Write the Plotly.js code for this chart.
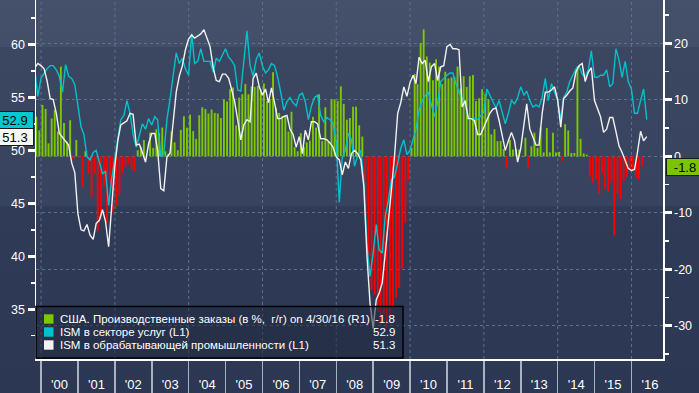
<!DOCTYPE html>
<html>
<head>
<meta charset="utf-8">
<script src="https://cdn.plot.ly/plotly-3.0.1.min.js"></script>
<style>
  html, body { margin: 0; padding: 0; background: #2e3956; }
  #chart {
    width: 699px; height: 393px;
    background: linear-gradient(to bottom,
      #45506b 0px, #434e69 47px,
      #3b4661 47px, #38435f 206px,
      #303b58 206px, #2c3753 393px);
  }
</style>
</head>
<body>
<div id="chart"></div>
<script>
// ---- DATA ----
// US factory orders, % y/y, monthly Nov 1999 .. Apr 2016 (right axis, R1)
const factoryOrdersStart = [1999, 11];
const factoryOrders = [
  7.0, 4.6,
  9.1, 8.4, 2.3, 6.7, 8.2, 4.4, 15.9, 5.9, 2.6, 6.4, -0.5, 2.9,
  -0.3, -5.4, 0.9, -3.0, -7.2, -3.0, -13.3, -11.2, -5.4, -11.8, -6.5, -10.0,
  -8.8, -6.8, -3.0, -1.8, -1.3, -2.3, -2.6, 1.1, 1.7, 2.9, -0.3, 4.2,
  1.5, 4.8, 4.1, 5.1, 0.9, 0.5, 4.4, 2.5, 1.1, 4.7, 7.1, 5.1,
  7.4, 4.5, 3.1, 7.3, 8.7, 8.4, 7.6, 8.3, 7.7, 7.6, 6.8, 10.1,
  9.7, 11.9, 12.2, 5.5, 10.4, 11.0, 12.8, 11.0, 12.4, 12.3, 12.5, 11.9,
  12.9, 9.8, 10.1, 14.9, 8.6, 7.7, 7.1, 7.1, 4.4, 7.9, 1.6, 0.9,
  4.1, 1.7, 2.5, 2.8, 7.0, 5.1, 11.0, 2.7, 8.7, 2.6, 10.1, 10.1,
  9.8, 12.4, 9.3, 6.5, 6.8, 8.8, 8.8, 5.5, 3.5, -10.5, -17.5, -23.7,
  -24.5, -27.5, -29.5, -28.0, -30.4, -29.0, -26.6, -25.0, -23.3, -19.8, -11.8, -4.2,
  1.5, 14.6, 12.8, 20.1, 22.5, 17.7, 16.6, 13.5, 17.2, 15.9, 12.8, 15.0,
  13.8, 14.0, 14.1, 15.9, 12.0, 14.2, 12.3, 14.2, 14.4, 9.8, 10.3, 11.9,
  11.0, 10.1, 3.9, 4.8, 2.7, 2.7, 1.3, -2.1, 2.9, 1.2, 1.3, 1.2,
  0.1, 3.3, -2.1, 1.8, 4.2, 1.5, 5.1, 0.7, 5.0, 0.7, 4.2, 0.7,
  0.8, -0.8, 5.7, 4.6, 0.6, 0.6, 15.9, 3.1, 0.5, 0.3, -3.6, -4.7,
  -4.1, -6.7, -3.0, -5.8, -6.3, -4.6, -14.0, -6.7, -7.6, -4.4, -3.6, -2.5,
  -2.3, -3.9, -4.0, -1.8
];

// ISM indices, monthly Oct 1999 .. May 2016 (left axis, L1)
const ismStart = [1999, 10];
const ismServices = [
  57.6, 55.1, 56.8,
  57.3, 57.7, 58.0, 58.0, 57.6, 57.0, 55.5, 58.1, 57.0, 56.8, 56.2, 54.1,
  52.2, 51.5, 49.4, 49.1, 49.8, 50.0, 48.9, 47.8, 48.0, 44.8, 47.3, 49.4,
  51.3, 52.9, 53.3, 54.7, 53.5, 51.5, 50.3, 51.5, 52.5, 52.0, 53.0, 52.4,
  53.2, 52.9, 49.4, 49.7, 52.9, 54.8, 57.0, 59.2, 58.2, 58.7, 57.7, 57.1,
  61.0, 58.2, 58.4, 59.6, 58.4, 58.4, 58.4, 57.4, 58.7, 58.4, 59.0, 59.6,
  58.8, 58.5, 58.0, 55.7, 55.6, 58.6, 61.3, 58.0, 57.0, 58.6, 59.2, 58.0,
  57.3, 57.6, 58.2, 58.0, 56.9, 55.5, 53.8, 54.6, 55.0, 54.5, 54.2, 55.2,
  55.4, 54.6, 52.9, 54.2, 55.0, 55.2, 53.3, 52.7, 53.1, 52.9, 52.6, 50.8,
  45.1, 49.3, 50.0, 51.6, 51.0, 48.5, 49.5, 50.0, 47.0, 41.0, 38.1, 40.3,
  43.0, 40.6, 40.3, 43.8, 45.3, 47.2, 47.5, 48.8, 50.2, 51.0, 49.6, 50.0,
  51.0, 52.0, 53.8, 54.7, 55.2, 55.5, 54.3, 53.2, 54.5, 56.5, 56.8, 57.1,
  57.3, 57.3, 56.3, 55.5, 54.9, 54.3, 53.0, 53.0, 53.0, 52.9, 53.2, 53.6,
  55.8, 55.2, 54.7, 54.0, 54.7, 53.5, 52.5, 53.5, 54.7, 54.4, 55.0, 56.0,
  55.2, 55.6, 54.7, 54.1, 54.3, 54.1, 55.0, 56.8, 54.7, 56.3, 55.5, 54.7,
  52.9, 55.0, 55.5, 56.5, 57.1, 57.7, 58.0, 57.2, 56.9, 57.6, 59.4, 56.9,
  56.9, 57.1, 57.1, 57.6, 56.0, 56.3, 59.6, 58.5, 56.9, 58.4, 56.5, 55.8,
  53.5, 53.5, 54.7, 55.8, 52.9
];
const ismManufacturing = [
  57.8, 58.2, 58.0,
  57.7, 56.6, 54.9, 54.8, 53.5, 51.6, 51.2, 50.8, 50.5, 48.8, 47.9, 44.0,
  42.5, 42.4, 43.0, 42.0, 41.6, 43.1, 43.4, 44.4, 43.3, 40.9, 44.4, 48.5,
  51.0, 52.4, 52.6, 52.8, 53.5, 53.4, 50.5, 50.6, 49.8, 48.9, 50.6, 51.6,
  51.6, 50.0, 46.4, 46.2, 49.4, 49.7, 52.6, 55.5, 57.0, 58.0, 59.5, 60.5,
  60.9, 60.6, 60.8, 61.0, 61.4, 60.7, 59.8, 57.8, 56.6, 56.5, 57.2, 57.2,
  56.8, 55.8, 54.6, 52.9, 51.0, 52.4, 52.9, 52.7, 56.8, 57.3, 56.0, 55.2,
  55.8, 54.5, 55.9, 54.5, 53.0, 53.0, 53.2, 53.3, 52.0, 51.5, 50.3, 51.3,
  49.7, 51.9, 51.0, 52.7, 52.7, 52.5, 51.1, 51.1, 51.0, 50.7, 50.3, 49.4,
  49.1, 47.7, 48.9, 48.3, 49.7, 50.0, 49.7, 49.1, 46.6, 40.0, 35.6, 33.2,
  35.9, 36.5, 37.5, 40.3, 43.1, 46.3, 49.5, 53.5, 54.5, 56.0, 55.1, 56.4,
  57.1, 56.3, 58.8, 58.2, 58.5, 56.5, 57.9, 58.2, 56.6, 57.9, 58.0, 59.8,
  60.0, 59.6, 59.6, 59.5, 54.1, 54.7, 53.0, 53.0, 52.8, 51.5, 51.5, 52.2,
  53.0, 53.5, 53.9, 54.0, 52.8, 51.3, 50.0, 50.9, 51.7, 50.9, 48.9, 50.2,
  52.2, 54.4, 52.0, 51.2, 50.5, 50.5, 53.5, 55.5, 55.5, 55.7, 56.0, 54.8,
  52.2, 54.9, 55.2, 55.6, 55.9, 57.4, 58.0, 58.2, 56.5, 57.4, 57.8, 54.7,
  54.0, 53.2, 51.7, 52.0, 53.1, 53.1, 51.8, 50.4, 49.8, 49.1, 48.3, 48.1,
  48.2, 49.8, 51.8, 50.9, 51.3
];

const seriesNames = [
  "США. Производственные заказы (в %,  г/г) on 4/30/16 (R1)",
  "ISM в секторе услуг (L1)",
  "ISM в обрабатывающей промышленности (L1)"
];
const rightTickVals = [-30, -20, -10, 0, 10, 20];
const rightTickText = ["-30", "-20", "-10", "0", "10", "20"];
const gridYears = [2000, 2002, 2004, 2006, 2008, 2010, 2012, 2014, 2016];

// ---- helpers ----
function pad(n) { return (n < 10 ? "0" : "") + n; }
function monthDates(start, n, endOfMonth) {
  const out = [];
  for (let i = 0; i < n; i++) {
    const k = start[1] - 1 + i;
    const y = start[0] + Math.floor(k / 12);
    const m = k % 12 + 1;
    const d = endOfMonth ? new Date(Date.UTC(y, m, 0)).getUTCDate() : 15;
    out.push(y + "-" + pad(m) + "-" + pad(d));
  }
  return out;
}
const barDates = monthDates(factoryOrdersStart, factoryOrders.length, false);
const lineDates = monthDates(ismStart, ismServices.length, true);

const GREEN = "#7ec800", RED = "#ff0000", CYAN = "#00c3cb", WHITE = "#f2f2f2";
const FONT = "Liberation Sans, Arial, sans-serif";

const traces = [
  {
    type: "bar", x: barDates, y: factoryOrders, xaxis: "x", yaxis: "y",
    marker: { color: factoryOrders.map(v => v >= 0 ? GREEN : RED), line: { width: 0 } },
    hoverinfo: "skip"
  },
  {
    type: "scatter", mode: "lines", x: lineDates, y: ismServices, xaxis: "x", yaxis: "y2",
    line: { color: CYAN, width: 1.4 }, hoverinfo: "skip"
  },
  {
    type: "scatter", mode: "lines", x: lineDates, y: ismManufacturing, xaxis: "x", yaxis: "y2",
    line: { color: WHITE, width: 1.4 }, hoverinfo: "skip"
  }
];

// pixel -> paper helpers (plot area: x 36..663, y 0..359)
const PL = 36, PW = 627, PH = 359;
const px = v => (v - PL) / PW;
const py = v => (PH - v) / PH;

const shapes = [];
gridYears.forEach(y => shapes.push({
  type: "line", xref: "x", yref: "paper", x0: y + "-01-01", x1: y + "-01-01", y0: 0, y1: 1,
  line: { color: "#5b7290", width: 1, dash: "3px,3px" }, layer: "below"
}));
// legend box
shapes.push({
  type: "rect", xref: "paper", yref: "paper", x0: px(36), x1: px(403), y0: py(358), y1: py(306.5),
  fillcolor: "rgba(34,42,64,0.55)", line: { color: "#000000", width: 1.5 }, layer: "above"
});
const swatchColors = [GREEN, CYAN, WHITE];
const rowY = [319, 332, 345];
swatchColors.forEach((c, i) => shapes.push({
  type: "rect", xref: "paper", yref: "paper",
  x0: px(44), x1: px(53.5), y0: py(rowY[i] + 4.7), y1: py(rowY[i] - 4.7),
  fillcolor: c, line: { width: 0 }, layer: "above"
}));

const lastFO = factoryOrders[factoryOrders.length - 1];
const lastSvc = ismServices[ismServices.length - 1];
const lastMfg = ismManufacturing[ismManufacturing.length - 1];
const fmt = v => v.toFixed(1);
const legendValues = [lastFO, lastSvc, lastMfg];

const annotations = [];
seriesNames.forEach((t, i) => {
  annotations.push({
    xref: "paper", yref: "paper", x: px(57.5), y: py(rowY[i]), xanchor: "left", yanchor: "middle",
    text: t, showarrow: false, font: { family: FONT, size: 11.5, color: "#ffffff" }
  });
  annotations.push({
    xref: "paper", yref: "paper", x: px(397), y: py(rowY[i]), xanchor: "right", yanchor: "middle",
    text: fmt(legendValues[i]), showarrow: false, font: { family: FONT, size: 11.5, color: "#ffffff" }
  });
});
// value tags on the axes
annotations.push({
  xref: "paper", yref: "y2", x: 0, y: lastSvc, xanchor: "right", yanchor: "middle", xshift: -2,
  text: fmt(lastSvc), showarrow: false, width: 34, height: 14, borderpad: 1,
  bgcolor: "#00c8d0", bordercolor: "#1a1a1a", borderwidth: 1,
  font: { family: FONT, size: 13, color: "#000000" }
});
annotations.push({
  xref: "paper", yref: "y2", x: 0, y: lastMfg, xanchor: "right", yanchor: "middle", xshift: -2,
  text: fmt(lastMfg), showarrow: false, width: 34, height: 14, borderpad: 1,
  bgcolor: "#f7f7f7", bordercolor: "#1a1a1a", borderwidth: 1,
  font: { family: FONT, size: 13, color: "#000000" }
});
annotations.push({
  xref: "paper", yref: "y", x: 1, y: lastFO, xanchor: "left", yanchor: "middle", xshift: 3,
  text: fmt(lastFO), showarrow: false, width: 34, height: 14, borderpad: 1,
  bgcolor: "#7cc400", bordercolor: "#1a1a1a", borderwidth: 1,
  font: { family: FONT, size: 13, color: "#000000" }
});

const layout = {
  width: 699, height: 393,
  margin: { l: 36, r: 36, t: 0, b: 34, pad: 0 },
  paper_bgcolor: "rgba(0,0,0,0)", plot_bgcolor: "rgba(0,0,0,0)",
  showlegend: false, bargap: 0.33,
  font: { family: FONT, color: "#ffffff", size: 12 },
  xaxis: {
    type: "date", range: ["1999-11-12", "2016-11-08"],
    showgrid: false, zeroline: false, showline: true, linecolor: "#ffffff", linewidth: 1.5,
    ticks: "outside", ticklen: 34, tickwidth: 1.5, tickcolor: "#a9b0bf",
    dtick: "M12", tick0: "2000-01-01", tickformat: "'%y", ticklabelmode: "period",
    ticklabelstandoff: -21, tickfont: { family: FONT, size: 13, color: "#ffffff" }
  },
  yaxis: {
    range: [-35.9, 27.7], side: "right",
    tickmode: "array", tickvals: rightTickVals, ticktext: rightTickText,
    ticks: "outside", ticklen: 7, tickwidth: 3, tickcolor: "#ffffff",
    showline: true, linecolor: "#ffffff", linewidth: 1.5,
    showgrid: true, gridcolor: "#5b7290", griddash: "3px,3px", gridwidth: 1, zeroline: false,
    minor: { tickmode: "linear", tick0: 0, dtick: 5, ticks: "outside", ticklen: 4, tickwidth: 1.5, tickcolor: "#ffffff", showgrid: false },
    tickfont: { family: FONT, size: 12.5, color: "#ffffff" }
  },
  yaxis2: {
    range: [30.3, 64.2], overlaying: "y", side: "left",
    tickmode: "linear", tick0: 0, dtick: 5,
    ticks: "outside", ticklen: 7, tickwidth: 3, tickcolor: "#ffffff",
    showline: true, linecolor: "#ffffff", linewidth: 1.5,
    showgrid: false, zeroline: false,
    minor: { tickmode: "linear", tick0: 0, dtick: 2.5, ticks: "outside", ticklen: 4, tickwidth: 1.5, tickcolor: "#ffffff", showgrid: false },
    tickfont: { family: FONT, size: 12.5, color: "#ffffff" }
  },
  shapes: shapes,
  annotations: annotations
};

Plotly.newPlot("chart", traces, layout, { staticPlot: true, displayModeBar: false });
</script>
</body>
</html>
